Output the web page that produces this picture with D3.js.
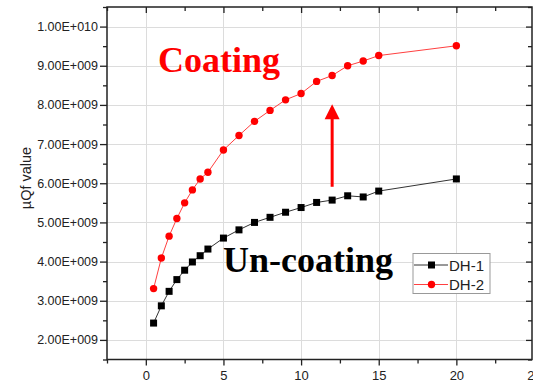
<!DOCTYPE html>
<html>
<head>
<meta charset="utf-8">
<script src="https://cdn.jsdelivr.net/npm/d3@7"></script>
<style>
  body { margin: 0; background: #fff; }
  svg { display: block; }
</style>
</head>
<body>
<script>
// values
const xValues = [0.5, 1, 1.5, 2, 2.5, 3, 3.5, 4, 5, 6, 7, 8, 9, 10, 11, 12, 13, 14, 15, 20];
const dh1 = [2.43, 2.87, 3.24, 3.54, 3.78, 3.99, 4.15, 4.32, 4.60, 4.81, 5.00, 5.13, 5.26, 5.38, 5.51, 5.57, 5.68, 5.65, 5.80, 6.11].map(v => v * 1e9);
const dh2 = [3.31, 4.09, 4.65, 5.10, 5.50, 5.83, 6.11, 6.28, 6.85, 7.22, 7.58, 7.86, 8.13, 8.29, 8.60, 8.75, 9.00, 9.12, 9.26, 9.51].map(v => v * 1e9);
const seriesNames = ['DH-1', 'DH-2'];
const yTickLabels = ['2.00E+009', '3.00E+009', '4.00E+009', '5.00E+009', '6.00E+009', '7.00E+009', '8.00E+009', '9.00E+009', '1.00E+010'];
const xTicks = [0, 5, 10, 15, 20, 25];
const arrowAt = {x: 12, from: 5.91e9, to: 8.02e9};

const width = 533, height = 386;
const plotLeft = 107, plotRight = 532, plotTop = 7, plotBottom = 359.5;

const svg = d3.select('body').append('svg')
    .attr('width', width)
    .attr('height', height);

const x = d3.scaleLinear().domain([-2.5, 25]).range([plotLeft, plotRight + 2]);
const y = d3.scaleLinear().domain([1.5e9, 10.5e9]).range([plotBottom, plotTop]);

const yMajor = d3.range(2e9, 10.01e9, 1e9);
const yMinor = d3.range(1.5e9, 10.51e9, 0.5e9).filter(v => !yMajor.some(m => Math.abs(m - v) < 1));
const xMinor = d3.range(-2.5, 25.1, 2.5).filter(v => !xTicks.includes(v));

// grid
const grid = svg.append('g').attr('stroke', '#dcdcdc').attr('stroke-width', 1);
grid.selectAll('.gy').data(yMajor).enter().append('line')
    .attr('x1', plotLeft).attr('x2', plotRight)
    .attr('y1', d => Math.round(y(d)) + 0.5).attr('y2', d => Math.round(y(d)) + 0.5);
grid.selectAll('.gx').data(xTicks.filter(d => d < 25)).enter().append('line')
    .attr('y1', plotTop).attr('y2', plotBottom)
    .attr('x1', d => Math.round(x(d)) + 0.5).attr('x2', d => Math.round(x(d)) + 0.5);

// axes
const font = '"Liberation Sans", Arial, sans-serif';
const yAxis = svg.append('g')
    .attr('transform', `translate(${plotLeft},0)`)
    .call(d3.axisLeft(y).tickValues(yMajor).tickSize(7).tickPadding(2)
        .tickFormat((d, i) => yTickLabels[i]));
yAxis.selectAll('text').style('font-family', font).style('font-size', '12.5px').attr('fill', '#222');
yAxis.select('.domain').remove();
svg.append('g')
    .attr('transform', `translate(${plotLeft},0)`)
    .call(d3.axisLeft(y).tickValues(yMinor).tickSize(4).tickFormat(''))
    .select('.domain').remove();

const xAxis = svg.append('g')
    .attr('transform', `translate(0,${plotBottom})`)
    .call(d3.axisBottom(x).tickValues(xTicks).tickSize(6).tickPadding(5).tickFormat(d3.format('d')));
xAxis.selectAll('text').style('font-family', font).style('font-size', '13px').attr('fill', '#222');
xAxis.select('.domain').remove();
svg.append('g')
    .attr('transform', `translate(0,${plotBottom})`)
    .call(d3.axisBottom(x).tickValues(xMinor).tickSize(4).tickFormat(''))
    .select('.domain').remove();

// inward ticks on top and right
svg.append('g').attr('transform', `translate(0,${plotTop})`)
    .call(d3.axisTop(x).tickValues(xTicks).tickSize(-6).tickFormat(''))
    .select('.domain').remove();
svg.append('g').attr('transform', `translate(0,${plotTop})`)
    .call(d3.axisTop(x).tickValues(xMinor).tickSize(-4).tickFormat(''))
    .select('.domain').remove();
svg.append('g').attr('transform', `translate(${plotRight},0)`)
    .call(d3.axisRight(y).tickValues(yMajor).tickSize(-6).tickFormat(''))
    .select('.domain').remove();
svg.append('g').attr('transform', `translate(${plotRight},0)`)
    .call(d3.axisRight(y).tickValues(yMinor).tickSize(-4).tickFormat(''))
    .select('.domain').remove();

svg.selectAll('.tick line').attr('stroke', '#222').attr('stroke-width', 1.3);

// frame
svg.append('rect')
    .attr('x', plotLeft).attr('y', plotTop)
    .attr('width', plotRight - plotLeft).attr('height', plotBottom - plotTop)
    .attr('fill', 'none').attr('stroke', '#222').attr('stroke-width', 1.5);

// y title
svg.append('text')
    .attr('transform', `translate(31,178) rotate(-90)`)
    .attr('text-anchor', 'middle')
    .style('font-family', font).style('font-size', '14.5px').attr('fill', '#222')
    .text('µQf value');

// series
const series = [
    {name: seriesNames[0], values: dh1, colour: '#000', line: '#333', shape: 'square'},
    {name: seriesNames[1], values: dh2, colour: '#ff0000', line: '#ff4040', shape: 'circle'}
];
const line = d3.line().x(d => x(d[0])).y(d => y(d[1]));

function marker(g, s, cx, cy) {
    if (s.shape === 'square') {
        g.append('rect').attr('x', cx - 3.5).attr('y', cy - 3.5)
            .attr('width', 7).attr('height', 7).attr('fill', s.colour);
    } else {
        g.append('circle').attr('cx', cx).attr('cy', cy).attr('r', 3.7).attr('fill', s.colour);
    }
}

series.forEach(s => {
    const pts = xValues.map((xv, i) => [xv, s.values[i]]);
    svg.append('path').datum(pts)
        .attr('d', line).attr('fill', 'none')
        .attr('stroke', s.line).attr('stroke-width', 1);
    const g = svg.append('g');
    pts.forEach(p => marker(g, s, x(p[0]), y(p[1])));
});

// annotations
const serif = '"Liberation Serif", "Times New Roman", serif';
svg.append('text').attr('x', 158).attr('y', 72)
    .style('font-family', serif).style('font-size', '36px').style('font-weight', 'bold')
    .attr('fill', '#ff0000').text('Coating');
svg.append('text').attr('x', 223).attr('y', 272)
    .style('font-family', serif).style('font-size', '36px').style('font-weight', 'bold')
    .attr('fill', '#000').text('Un-coating');

// arrow
const ax = x(arrowAt.x), ayTip = y(arrowAt.to), ayBase = y(arrowAt.from);
svg.append('line')
    .attr('x1', ax).attr('x2', ax)
    .attr('y1', ayBase).attr('y2', ayTip + 14)
    .attr('stroke', '#ff0000').attr('stroke-width', 3);
svg.append('path')
    .attr('d', `M${ax},${ayTip} L${ax - 7.5},${ayTip + 15} L${ax + 7.5},${ayTip + 15} Z`)
    .attr('fill', '#ff0000');

// legend
const legend = svg.append('g').attr('transform', 'translate(413,253.5)');
legend.append('rect').attr('width', 77).attr('height', 40)
    .attr('fill', '#fff').attr('stroke', '#999').attr('stroke-width', 1);
series.forEach((s, i) => {
    const ly = 11.5 + i * 19.5;
    legend.append('line').attr('x1', 1).attr('x2', 35).attr('y1', ly).attr('y2', ly)
        .attr('stroke', s.line).attr('stroke-width', 1);
    marker(legend, s, 18.5, ly);
    legend.append('text').attr('x', 36).attr('y', ly + 5.5)
        .style('font-family', font).style('font-size', '15px').attr('fill', '#222')
        .text(s.name);
});
</script>
</body>
</html>
